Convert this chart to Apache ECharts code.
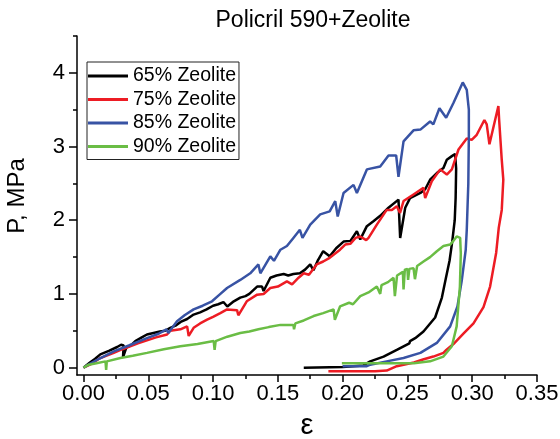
<!DOCTYPE html>
<html>
<head>
<meta charset="utf-8">
<script src="https://cdn.jsdelivr.net/npm/echarts@6/dist/echarts.min.js"></script>
<style>html,body{margin:0;padding:0;background:#fff}#c{width:560px;height:439px}</style>
</head>
<body>
<div id="c"></div>
<script>
var titleText = 'Policril 590+Zeolite';
var xName = 'ε';
var yName = 'P, MPa';
var xTicks = [0, 0.05, 0.10, 0.15, 0.20, 0.25, 0.30, 0.35];
var xMinorTicks = [0.025, 0.075, 0.125, 0.175, 0.225, 0.275, 0.325];
var yTicks = [0, 1, 2, 3, 4];
var yMinorTicks = [0.5, 1.5, 2.5, 3.5, 4.5];
var seriesNames = ['65% Zeolite', '75% Zeolite', '85% Zeolite', '90% Zeolite'];

var zeo65 = [[0,0],[0.005,0.07],[0.009,0.12],[0.013,0.18],[0.02,0.23],[0.026,0.28],[0.029,0.31],[0.031,0.3],[0.0305,0.14],[0.033,0.27],[0.037,0.31],[0.04,0.36],[0.045,0.41],[0.049,0.45],[0.054,0.47],[0.059,0.49],[0.063,0.5],[0.067,0.54],[0.071,0.57],[0.075,0.62],[0.08,0.66],[0.085,0.72],[0.09,0.75],[0.095,0.79],[0.1,0.84],[0.104,0.86],[0.108,0.89],[0.111,0.83],[0.116,0.9],[0.121,0.95],[0.125,0.97],[0.128,1.0],[0.134,1.1],[0.1378,1.1],[0.139,1.04],[0.1442,1.22],[0.149,1.25],[0.1545,1.27],[0.158,1.25],[0.162,1.27],[0.167,1.28],[0.171,1.33],[0.175,1.4],[0.1775,1.32],[0.181,1.46],[0.185,1.58],[0.19,1.51],[0.195,1.62],[0.2007,1.71],[0.206,1.72],[0.211,1.85],[0.2136,1.74],[0.2187,1.92],[0.224,1.99],[0.229,2.06],[0.2354,2.17],[0.2431,2.28],[0.2444,1.76],[0.2483,2.17],[0.252,2.3],[0.26,2.37],[0.2637,2.42],[0.2675,2.55],[0.2727,2.64],[0.2778,2.71],[0.2804,2.82],[0.2843,2.87],[0.2868,2.9],[0.2876,2.7],[0.2872,2.3],[0.2865,2.0],[0.2845,1.7],[0.2825,1.45],[0.2795,1.2],[0.2766,0.95],[0.2714,0.68],[0.2624,0.49],[0.256,0.4],[0.252,0.36],[0.2515,0.33],[0.2418,0.24],[0.2316,0.15],[0.2213,0.085],[0.216,0.03],[0.2,0.01],[0.17,0.0]];

var zeo75 = [[0,0],[0.005,0.04],[0.013,0.13],[0.0234,0.2],[0.03,0.25],[0.036,0.29],[0.042,0.33],[0.049,0.37],[0.056,0.41],[0.0645,0.45],[0.067,0.5],[0.0748,0.52],[0.08,0.56],[0.0812,0.43],[0.085,0.54],[0.09,0.6],[0.0954,0.65],[0.1,0.69],[0.1056,0.74],[0.1108,0.79],[0.1185,0.78],[0.1195,0.71],[0.126,0.9],[0.134,0.99],[0.139,1.0],[0.1442,1.08],[0.15,1.1],[0.157,1.17],[0.161,1.13],[0.166,1.22],[0.17,1.28],[0.174,1.26],[0.18,1.4],[0.185,1.44],[0.19,1.49],[0.198,1.6],[0.202,1.67],[0.2059,1.68],[0.21,1.76],[0.2136,1.78],[0.2182,1.73],[0.22,1.76],[0.2264,1.94],[0.234,2.14],[0.238,2.14],[0.2418,2.19],[0.2443,2.1],[0.247,2.26],[0.2547,2.35],[0.2624,2.44],[0.2637,2.3],[0.2688,2.53],[0.2753,2.69],[0.2804,2.62],[0.2843,2.69],[0.2894,2.96],[0.2958,3.11],[0.2996,3.09],[0.3035,3.16],[0.3094,3.36],[0.3112,3.3],[0.3133,3.03],[0.3202,3.55],[0.3208,3.36],[0.3228,2.82],[0.324,2.55],[0.3228,2.14],[0.3205,1.9],[0.3185,1.56],[0.3138,1.1],[0.3087,0.82],[0.301,0.6],[0.2932,0.46],[0.2855,0.32],[0.28,0.24],[0.2778,0.2],[0.27,0.15],[0.262,0.11],[0.255,0.07],[0.2418,0.02],[0.234,-0.04],[0.225,-0.05],[0.189,-0.05]];

var zeo85 = [[0,0],[0.004,0.04],[0.012,0.12],[0.0234,0.22],[0.035,0.3],[0.049,0.4],[0.058,0.46],[0.064,0.52],[0.0655,0.47],[0.0722,0.63],[0.078,0.71],[0.085,0.79],[0.092,0.84],[0.0992,0.9],[0.1005,0.88],[0.105,0.99],[0.1108,1.08],[0.121,1.19],[0.1287,1.28],[0.135,1.4],[0.1365,1.28],[0.1442,1.51],[0.147,1.45],[0.152,1.6],[0.157,1.65],[0.162,1.76],[0.167,1.87],[0.169,1.76],[0.175,1.94],[0.1827,2.08],[0.19,2.12],[0.1943,2.26],[0.1962,2.05],[0.2007,2.37],[0.2084,2.48],[0.211,2.37],[0.2187,2.69],[0.229,2.73],[0.2354,2.88],[0.2413,2.88],[0.2431,2.59],[0.247,3.07],[0.2547,3.22],[0.26,3.23],[0.2675,3.34],[0.27,3.3],[0.2747,3.52],[0.2799,3.39],[0.2855,3.59],[0.2927,3.87],[0.2958,3.77],[0.2974,3.5],[0.2974,3.14],[0.297,2.5],[0.2958,1.87],[0.295,1.6],[0.292,1.19],[0.2886,0.83],[0.283,0.56],[0.2727,0.335],[0.26,0.2],[0.247,0.13],[0.234,0.085],[0.2213,0.04],[0.2187,0.02],[0.2,0.02]];

var zeo90 = [[0,0],[0.004,0.04],[0.01,0.06],[0.017,0.085],[0.0175,-0.03],[0.018,0.085],[0.0285,0.13],[0.038,0.16],[0.049,0.2],[0.062,0.25],[0.0748,0.29],[0.088,0.32],[0.1005,0.36],[0.1012,0.24],[0.102,0.36],[0.111,0.42],[0.121,0.47],[0.128,0.49],[0.135,0.52],[0.143,0.55],[0.152,0.58],[0.162,0.58],[0.1625,0.52],[0.1635,0.6],[0.17,0.64],[0.1776,0.7],[0.185,0.74],[0.193,0.79],[0.194,0.65],[0.198,0.83],[0.205,0.88],[0.208,0.86],[0.2136,0.97],[0.22,1.02],[0.2264,1.1],[0.229,1.0],[0.23,1.12],[0.235,1.16],[0.2393,1.22],[0.2403,0.97],[0.242,1.25],[0.2465,1.3],[0.247,1.06],[0.248,1.33],[0.25,1.34],[0.2505,1.19],[0.2515,1.34],[0.2547,1.35],[0.2558,1.2],[0.2575,1.38],[0.2624,1.44],[0.2675,1.5],[0.2727,1.58],[0.2778,1.65],[0.283,1.67],[0.2855,1.72],[0.288,1.78],[0.2907,1.76],[0.2912,1.55],[0.2905,1.1],[0.288,0.56],[0.2843,0.29],[0.2778,0.15],[0.2675,0.085],[0.255,0.06],[0.1994,0.06]];

var seriesData = [zeo65, zeo75, zeo85, zeo90];
var seriesColors = ['#000000', '#ed1c24', '#3853a4', '#6abd45'];

var chart = echarts.init(document.getElementById('c'), null, {renderer: 'canvas'});
var FONT = 'Liberation Sans, Arial, sans-serif';
var axisBase = {
  type: 'value',
  splitLine: {show: false}
};
var option = {
  animation: false,
  backgroundColor: '#ffffff',
  textStyle: {fontFamily: FONT},
  title: {
    text: titleText, left: 313, top: 9, textAlign: 'center', padding: 0,
    textStyle: {fontSize: 23, fontWeight: 'normal', color: '#000', fontFamily: FONT}
  },
  legend: {
    orient: 'vertical', left: 87, top: 62,
    borderColor: '#222', borderWidth: 1, padding: [4, 3, 3, 1],
    itemWidth: 40, itemHeight: 3, itemGap: 3.5, icon: 'rect',
    textStyle: {fontSize: 19.5, lineHeight: 20, color: '#000', fontFamily: FONT},
    data: seriesNames
  },
  grid: {left: 77, right: 23, top: 36, bottom: 64, containLabel: false, outerBoundsMode: 'none'},
  xAxis: [
    Object.assign({}, axisBase, {
      min: -0.005, max: 0.35, position: 'bottom',
      axisLine: {show: true, onZero: false, lineStyle: {color: '#000', width: 1.5}},
      axisTick: {show: true, customValues: xTicks, length: 7, lineStyle: {color: '#000', width: 1.5}},
      axisLabel: {customValues: xTicks, fontSize: 22, color: '#000', margin: 8, fontFamily: FONT,
        formatter: function (v) { return v.toFixed(2); }},
      name: xName, nameLocation: 'middle', nameGap: 36,
      nameTextStyle: {fontSize: 29, color: '#000', fontFamily: FONT}
    }),
    Object.assign({}, axisBase, {
      min: -0.005, max: 0.35, position: 'bottom', offset: 0,
      axisLine: {show: false, onZero: false},
      axisTick: {show: true, customValues: xMinorTicks, length: 4, lineStyle: {color: '#000', width: 1.5}},
      axisLabel: {show: false}
    })
  ],
  yAxis: [
    Object.assign({}, axisBase, {
      min: -0.1, max: 4.5, position: 'left',
      axisLine: {show: true, onZero: false, lineStyle: {color: '#000', width: 1.5}},
      axisTick: {show: true, customValues: yTicks, length: 8, lineStyle: {color: '#000', width: 1.5}},
      axisLabel: {customValues: yTicks, fontSize: 22, color: '#000', margin: 12, fontFamily: FONT,
        formatter: function (v) { return String(Math.round(v)); }},
      name: yName, nameLocation: 'middle', nameGap: 48, nameRotate: 90,
      nameTextStyle: {fontSize: 24, color: '#000', fontFamily: FONT, padding: [0, 0, 0, 19]}
    }),
    Object.assign({}, axisBase, {
      min: -0.1, max: 4.5, position: 'left', offset: 0,
      axisLine: {show: false, onZero: false},
      axisTick: {show: true, customValues: yMinorTicks, length: 4, lineStyle: {color: '#000', width: 1.5}},
      axisLabel: {show: false}
    })
  ],
  series: seriesNames.map(function (name, i) {
    return {
      name: name, type: 'line', xAxisIndex: 0, yAxisIndex: 0,
      data: seriesData[i], showSymbol: false, symbol: 'none',
      color: seriesColors[i],
      lineStyle: {width: 2.5, color: seriesColors[i]},
      itemStyle: {color: seriesColors[i]}
    };
  })
};
chart.setOption(option);
</script>
</body>
</html>
